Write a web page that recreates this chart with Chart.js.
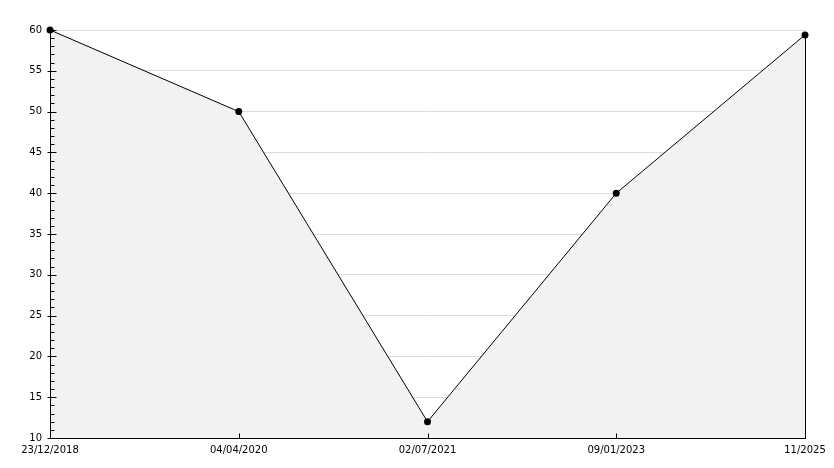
<!DOCTYPE html>
<html>
<head>
<meta charset="utf-8">
<script src="https://cdn.jsdelivr.net/npm/chart.js@4/dist/chart.umd.min.js"></script>
<style>
  html, body { margin: 0; padding: 0; background: #fff; }
  canvas { display: block; }
</style>
</head>
<body>
<canvas id="chart" width="834" height="468"></canvas>
<script>
// data
const dateLabels = ['23/12/2018', '04/04/2020', '02/07/2021', '09/01/2023', '11/2025'];
const seriesValues = [60, 50, 12, 40, 59.4];
const yMin = 10;
const yMax = 60;
const yMajorStep = 5;

// ticks pointing into the plot, plus axis lines drawn over the fill
const axisPlugin = {
  id: 'axisPlugin',
  afterDatasetsDraw(chart) {
    const ctx = chart.ctx;
    const a = chart.chartArea;
    const ys = chart.scales.y;
    const xs = chart.scales.x;
    ctx.save();
    ctx.strokeStyle = '#000';
    ctx.lineWidth = 1;
    ctx.beginPath();
    const left = Math.round(a.left) + 0.5;
    const bottom = Math.round(a.bottom) + 0.5;
    ctx.moveTo(left, Math.round(a.top));
    ctx.lineTo(left, bottom);
    ctx.lineTo(Math.round(a.right) + 1, bottom);
    for (let v = yMin; v <= yMax; v++) {
      const py = Math.round(ys.getPixelForValue(v)) + 0.5;
      const major = v % yMajorStep === 0;
      ctx.moveTo(left - (major ? 3 : 0), py);
      ctx.lineTo(left + (major ? 6 : 4), py);
    }
    dateLabels.forEach((_, i) => {
      const px = Math.round(xs.getPixelForValue(i)) + 0.5;
      ctx.moveTo(px, bottom);
      ctx.lineTo(px, bottom - 5);
    });
    // right edge of the filled area
    const pts = chart.getDatasetMeta(0).data;
    const last = pts[pts.length - 1];
    const rx = Math.round(last.x) + 0.5;
    ctx.moveTo(rx, last.y);
    ctx.lineTo(rx, bottom);
    ctx.stroke();
    ctx.restore();
  }
};

new Chart(document.getElementById('chart'), {
  type: 'line',
  data: {
    labels: dateLabels,
    datasets: [{
      data: seriesValues,
      borderColor: '#000',
      borderWidth: 1,
      backgroundColor: '#f2f2f2',
      fill: 'start',
      tension: 0,
      clip: false,
      pointRadius: 3.5,
      pointBackgroundColor: '#000',
      pointBorderColor: '#000',
      pointBorderWidth: 0
    }]
  },
  options: {
    responsive: false,
    animation: false,
    layout: { padding: { top: 30, right: 29, left: 0, bottom: 0 } },
    plugins: { legend: { display: false }, tooltip: { enabled: false } },
    scales: {
      x: {
        type: 'category',
        offset: false,
        grid: { display: false, drawTicks: false },
        border: { display: false },
        ticks: {
          color: '#000',
          font: { family: 'DejaVu Sans', size: 10 },
          maxRotation: 0,
          autoSkip: false,
          padding: 6
        },
        afterFit(scale) { scale.height = 30; }
      },
      y: {
        min: yMin,
        max: yMax,
        grid: {
          drawTicks: false,
          color: c => (c.tick && c.tick.value % yMajorStep === 0 ? '#dcdcdc' : 'rgba(0,0,0,0)')
        },
        border: { display: false },
        ticks: {
          stepSize: 1,
          autoSkip: false,
          color: '#000',
          font: { family: 'DejaVu Sans', size: 10 },
          padding: 8,
          callback: v => (v % yMajorStep === 0 ? String(v) : '')
        },
        afterFit(scale) { scale.width = 50; }
      }
    }
  },
  plugins: [axisPlugin]
});
</script>
</body>
</html>
